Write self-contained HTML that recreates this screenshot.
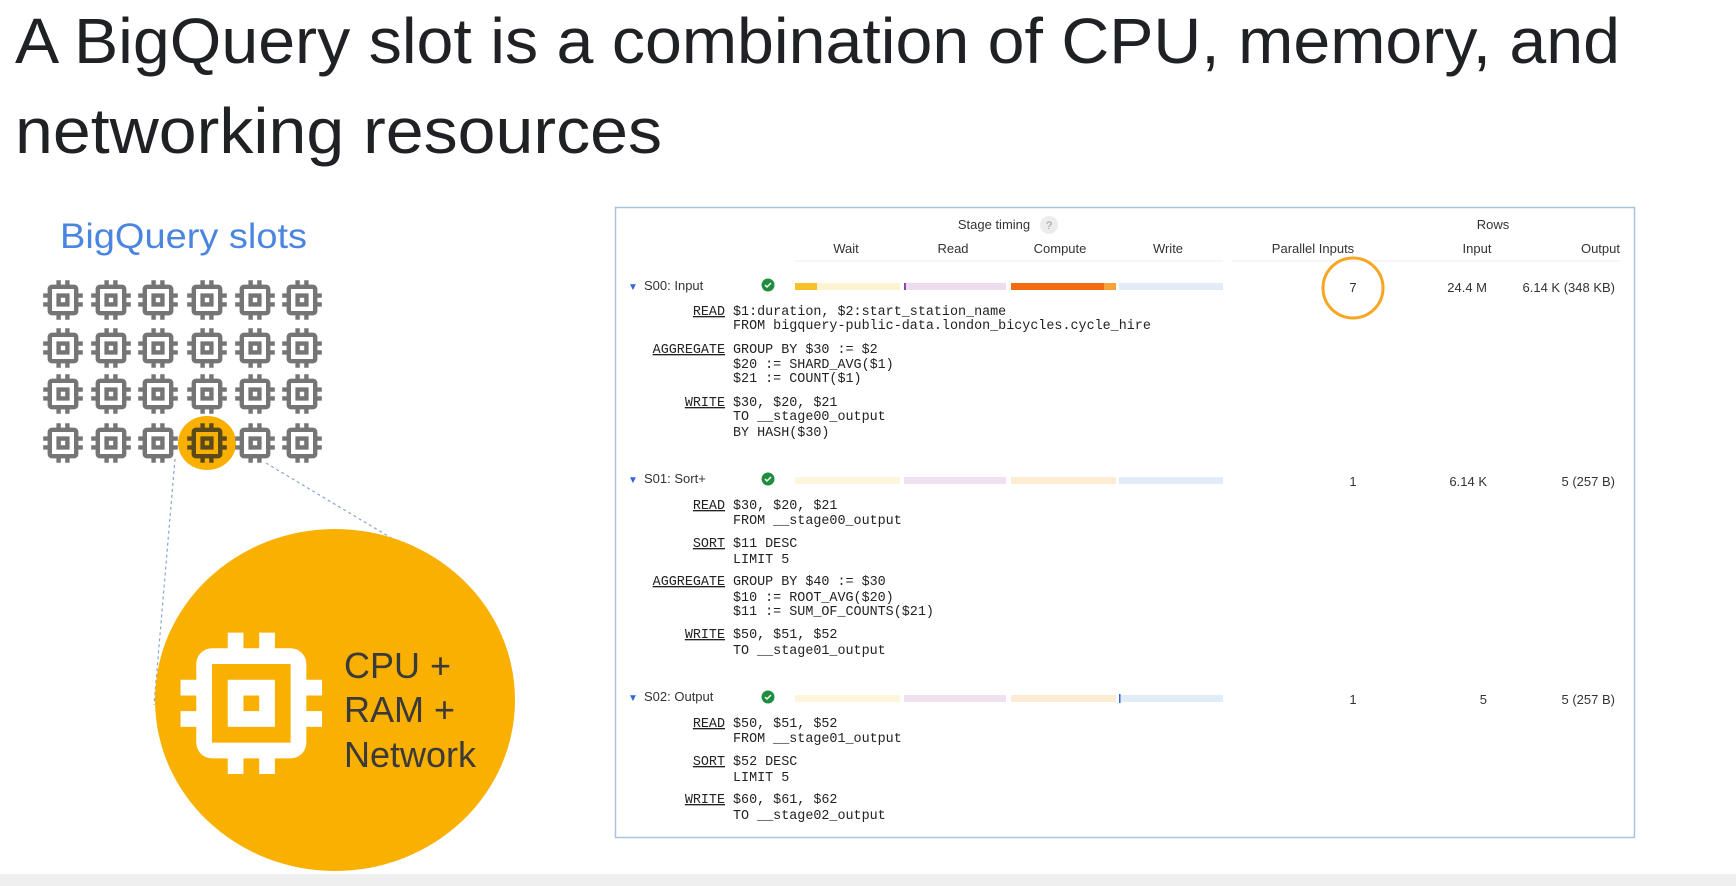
<!DOCTYPE html>
<html><head><meta charset="utf-8"><style>
html,body{margin:0;padding:0;background:#fff;}
svg{display:block;}
</style></head><body>
<svg width="1736" height="886" viewBox="0 0 1736 886" xmlns="http://www.w3.org/2000/svg">
<defs>
<path id="chip" d="M15 9H9v6h6V9zm-2 4h-2v-2h2v2zm8-2V9h-2V7c0-1.1-.9-2-2-2h-2V3h-2v2h-2V3H9v2H7c-1.1 0-2 .9-2 2v2H3v2h2v2H3v2h2v2c0 1.1.9 2 2 2h2v2h2v-2h2v2h2v-2h2c1.1 0 2-.9 2-2v-2h2v-2h-2v-2h2zm-4 6H7V7h10v10z"/>
</defs>
<rect width="1736" height="886" fill="#fff"/>
<rect x="0" y="874" width="1736" height="12" fill="#efefef"/>

<g font-family="Liberation Sans, sans-serif" fill="#202124">
<text x="15" y="63" font-size="64" textLength="1605" lengthAdjust="spacingAndGlyphs">A BigQuery slot is a combination of CPU, memory, and</text>
<text x="15" y="153" font-size="64" textLength="647" lengthAdjust="spacingAndGlyphs">networking resources</text>
</g>
<text x="60" y="248" font-family="Liberation Sans, sans-serif" font-size="35" fill="#4a86e0" textLength="247" lengthAdjust="spacingAndGlyphs">BigQuery slots</text>

<ellipse cx="207" cy="443" rx="29" ry="27" fill="#f9b000"/>
<g stroke="#8aa6c8" stroke-width="1.2" stroke-dasharray="3,3" fill="none">
<line x1="175" y1="459" x2="154" y2="705"/>
<line x1="266" y1="463" x2="393" y2="539"/>
</g>
<g fill="#757575">
<use href="#chip" transform="translate(36.6,273.6) scale(2.2)"/><use href="#chip" transform="translate(84.6,273.6) scale(2.2)"/><use href="#chip" transform="translate(131.6,273.6) scale(2.2)"/><use href="#chip" transform="translate(180.6,273.6) scale(2.2)"/><use href="#chip" transform="translate(228.6,273.6) scale(2.2)"/><use href="#chip" transform="translate(275.6,273.6) scale(2.2)"/>
<use href="#chip" transform="translate(36.6,321.6) scale(2.2)"/><use href="#chip" transform="translate(84.6,321.6) scale(2.2)"/><use href="#chip" transform="translate(131.6,321.6) scale(2.2)"/><use href="#chip" transform="translate(180.6,321.6) scale(2.2)"/><use href="#chip" transform="translate(228.6,321.6) scale(2.2)"/><use href="#chip" transform="translate(275.6,321.6) scale(2.2)"/>
<use href="#chip" transform="translate(36.6,367.6) scale(2.2)"/><use href="#chip" transform="translate(84.6,367.6) scale(2.2)"/><use href="#chip" transform="translate(131.6,367.6) scale(2.2)"/><use href="#chip" transform="translate(180.6,367.6) scale(2.2)"/><use href="#chip" transform="translate(228.6,367.6) scale(2.2)"/><use href="#chip" transform="translate(275.6,367.6) scale(2.2)"/>
<use href="#chip" transform="translate(36.6,416.6) scale(2.2)"/><use href="#chip" transform="translate(84.6,416.6) scale(2.2)"/><use href="#chip" transform="translate(131.6,416.6) scale(2.2)"/><use href="#chip" transform="translate(180.6,416.6) scale(2.2)" fill="#5a4a1a"/><use href="#chip" transform="translate(228.6,416.6) scale(2.2)"/><use href="#chip" transform="translate(275.6,416.6) scale(2.2)"/>
</g>

<ellipse cx="335" cy="700" rx="180" ry="171" fill="#f9b000"/>
<use href="#chip" transform="translate(157,609) scale(7.86)" fill="#fff"/>
<g font-family="Liberation Sans, sans-serif" font-size="36" fill="#3a3a3a">
<text x="344" y="678">CPU +</text>
<text x="344" y="722">RAM +</text>
<text x="344" y="767">Network</text>
</g>

<rect x="615.5" y="207.5" width="1019" height="630" fill="#fff" stroke="#a9c3d8" stroke-width="1.5"/>
<g font-family="Liberation Sans, sans-serif" font-size="13" fill="#333">
<text x="994" y="229" text-anchor="middle">Stage timing</text>
<circle cx="1049" cy="225" r="9" fill="#ececec"/>
<text x="1049" y="229" text-anchor="middle" fill="#999" font-size="11">?</text>
<text x="1493" y="229" text-anchor="middle">Rows</text>
<text x="846" y="253" text-anchor="middle">Wait</text>
<text x="953" y="253" text-anchor="middle">Read</text>
<text x="1060" y="253" text-anchor="middle">Compute</text>
<text x="1168" y="253" text-anchor="middle">Write</text>
<text x="1313" y="253" text-anchor="middle">Parallel Inputs</text>
<text x="1477" y="253" text-anchor="middle">Input</text>
<text x="1620" y="253" text-anchor="end">Output</text>
</g>
<line x1="795" y1="261" x2="1223" y2="261" stroke="#eee" stroke-width="1"/>
<line x1="1232" y1="261" x2="1620" y2="261" stroke="#eee" stroke-width="1"/>

<g font-family="Liberation Sans, sans-serif" font-size="13" fill="#333">
<text x="628" y="290" font-size="10" fill="#3367d6">▼</text>
<text x="644" y="290">S00: Input</text>
<text x="628" y="483" font-size="10" fill="#3367d6">▼</text>
<text x="644" y="483">S01: Sort+</text>
<text x="628" y="701" font-size="10" fill="#3367d6">▼</text>
<text x="644" y="701">S02: Output</text>
<text x="1353" y="292" text-anchor="middle">7</text>
<text x="1487" y="292" text-anchor="end">24.4 M</text>
<text x="1615" y="292" text-anchor="end">6.14 K (348 KB)</text>
<text x="1353" y="486" text-anchor="middle">1</text>
<text x="1487" y="486" text-anchor="end">6.14 K</text>
<text x="1615" y="486" text-anchor="end">5 (257 B)</text>
<text x="1353" y="704" text-anchor="middle">1</text>
<text x="1487" y="704" text-anchor="end">5</text>
<text x="1615" y="704" text-anchor="end">5 (257 B)</text>
</g>
<circle cx="1353" cy="288" r="30" fill="none" stroke="#f6a623" stroke-width="3"/>
<g>
<circle cx="768" cy="285" r="6.5" fill="#1e8e3e"/><path d="M765 285l2 2 4-4" stroke="#fff" stroke-width="1.5" fill="none"/>
<circle cx="768" cy="479" r="6.5" fill="#1e8e3e"/><path d="M765 479l2 2 4-4" stroke="#fff" stroke-width="1.5" fill="none"/>
<circle cx="768" cy="697" r="6.5" fill="#1e8e3e"/><path d="M765 697l2 2 4-4" stroke="#fff" stroke-width="1.5" fill="none"/>
</g>
<g>
<rect x="795" y="283" width="105" height="7" fill="#fdf3d3"/><rect x="795" y="283" width="22" height="7" fill="#f8c02a"/>
<rect x="904" y="283" width="102" height="7" fill="#eddcec"/><rect x="904" y="283" width="2" height="7" fill="#8e44ad"/>
<rect x="1011" y="283" width="105" height="7" fill="#f9a23a"/><rect x="1011" y="283" width="93" height="7" fill="#f26b0f"/>
<rect x="1119" y="283" width="104" height="7" fill="#e2ecf8"/>
<rect x="795" y="477" width="105" height="7" fill="#fdf5dc"/><rect x="904" y="477" width="102" height="7" fill="#efe1ef"/><rect x="1011" y="477" width="105" height="7" fill="#fdebd3"/><rect x="1119" y="477" width="104" height="7" fill="#e2ecf8"/>
<rect x="795" y="695" width="105" height="7" fill="#fdf5dc"/><rect x="904" y="695" width="102" height="7" fill="#efe1ef"/><rect x="1011" y="695" width="105" height="7" fill="#fdebd3"/><rect x="1119" y="695" width="104" height="7" fill="#e2ecf8"/><rect x="1119" y="694" width="1.5" height="9" fill="#3367d6"/>
</g>

<g font-family="Liberation Mono, monospace" font-size="13.4" fill="#222">
<g text-anchor="end" text-decoration="underline">
<text x="725" y="315">READ</text>
<text x="725" y="353">AGGREGATE</text>
<text x="725" y="406">WRITE</text>
<text x="725" y="509">READ</text>
<text x="725" y="547">SORT</text>
<text x="725" y="585">AGGREGATE</text>
<text x="725" y="638">WRITE</text>
<text x="725" y="727">READ</text>
<text x="725" y="765">SORT</text>
<text x="725" y="803">WRITE</text>
</g>
<text x="733" y="315">$1:duration, $2:start_station_name</text>
<text x="733" y="329">FROM bigquery-public-data.london_bicycles.cycle_hire</text>
<text x="733" y="353">GROUP BY $30 := $2</text>
<text x="733" y="368">$20 := SHARD_AVG($1)</text>
<text x="733" y="382">$21 := COUNT($1)</text>
<text x="733" y="406">$30, $20, $21</text>
<text x="733" y="420">TO __stage00_output</text>
<text x="733" y="436">BY HASH($30)</text>
<text x="733" y="509">$30, $20, $21</text>
<text x="733" y="524">FROM __stage00_output</text>
<text x="733" y="547">$11 DESC</text>
<text x="733" y="563">LIMIT 5</text>
<text x="733" y="585">GROUP BY $40 := $30</text>
<text x="733" y="601">$10 := ROOT_AVG($20)</text>
<text x="733" y="615">$11 := SUM_OF_COUNTS($21)</text>
<text x="733" y="638">$50, $51, $52</text>
<text x="733" y="654">TO __stage01_output</text>
<text x="733" y="727">$50, $51, $52</text>
<text x="733" y="742">FROM __stage01_output</text>
<text x="733" y="765">$52 DESC</text>
<text x="733" y="781">LIMIT 5</text>
<text x="733" y="803">$60, $61, $62</text>
<text x="733" y="819">TO __stage02_output</text>
</g>
</svg>
</body></html>
